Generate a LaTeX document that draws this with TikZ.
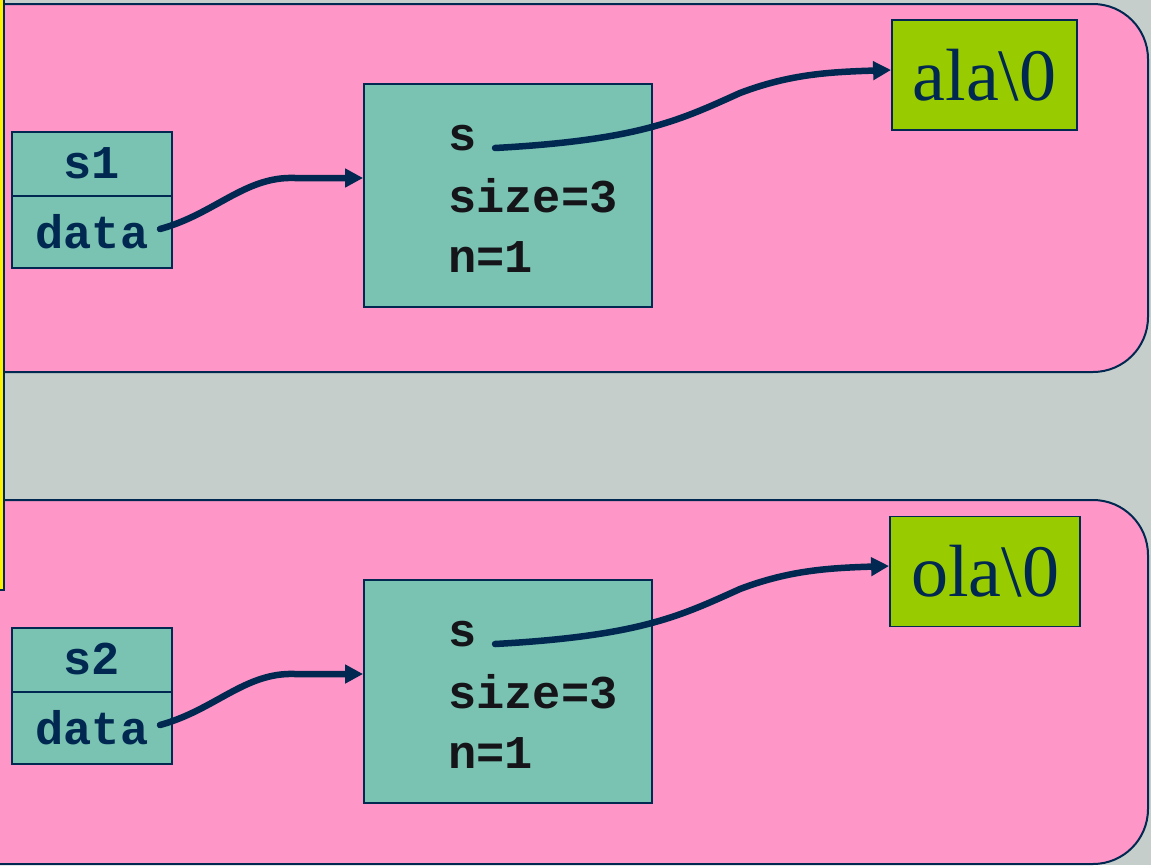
\documentclass[tikz,border=0pt]{standalone}
\usepackage{fontspec}
\setmainfont{Liberation Serif}
\setmonofont{Liberation Mono}
\usetikzlibrary{arrows.meta}

\definecolor{bggray}{RGB}{197,206,203}
\definecolor{panelpink}{RGB}{255,150,200}
\definecolor{cellteal}{RGB}{122,194,178}
\definecolor{strgreen}{RGB}{153,204,0}
\definecolor{navy}{RGB}{0,40,80}
\definecolor{ink}{RGB}{20,20,25}

\tikzset{
  panel/.style={draw=navy, fill=panelpink, line width=2pt, rounded corners=55pt},
  cell/.style={draw=navy, fill=cellteal, line width=1.8pt, minimum width=160pt,
               inner sep=0pt, font=\fontsize{47}{52}\selectfont\ttfamily\bfseries, text=navy},
  objbox/.style={draw=navy, fill=cellteal, line width=1.8pt, minimum width=288pt,
                 minimum height=223pt, inner sep=0pt},
  field/.style={anchor=base west, inner sep=0pt, text=ink,
                font=\fontsize{47}{52}\selectfont\ttfamily\bfseries},
  strbox/.style={draw=navy, fill=strgreen, line width=1.8pt, minimum height=110pt,
                 inner sep=0pt, text=navy, font=\fontsize{74}{84}\selectfont},
  ptr/.style={draw=navy, line width=6.5pt, line cap=round,
              -{Triangle[length=18pt,width=18pt]}}
}

\begin{document}
\begin{tikzpicture}[x=1pt,y=-1pt]
\useasboundingbox (0,0) rectangle (1151,865);
\fill[bggray] (0,0) rectangle (1151,865);

% the two memory panels
\path[panel] (-120,4) rectangle (1148,372);
\path[panel] (-120,500) rectangle (1148,864);

% yellow bar on the left edge
\draw[fill=yellow, draw=navy, line width=1.5pt] (-30,-30) rectangle (4,590);

% ---------- first string ----------
\node[cell, minimum height=64pt, text depth=2pt] (s1) at (92,164) {s1};
\node[cell, minimum height=72pt] (d1) at (92,232) {data};
\node[objbox] (o1) at (508,195.5) {};
\node[field] (o1s) at (448,150) {s};
\node[field] (o1size) at (448,212) {size=3};
\node[field] (o1n) at (448,272) {n=1};
\node[strbox, minimum width=185pt] (t1) at (984.5,75) {ala\textbackslash 0};

\coordinate (d1p) at (160,229);
\coordinate (o1in) at (o1.west |- 0,178);
\coordinate (o1p) at (495,148);
\coordinate (t1in) at (t1.west |- 0,70);

\draw[ptr] (d1p) .. controls (215,214) and (245,176) .. (295,178) -- (o1in);
\draw[ptr] (o1p) .. controls (640,140) and (680,120) .. (740,93)
               .. controls (790,74) and (830,72) .. (t1in);

% ---------- second string ----------
\node[cell, minimum height=64pt, text depth=2pt] (s2) at (92,660) {s2};
\node[cell, minimum height=72pt] (d2) at (92,728) {data};
\node[objbox] (o2) at (508,691.5) {};
\node[field] (o2s) at (448,646) {s};
\node[field] (o2size) at (448,708) {size=3};
\node[field] (o2n) at (448,768) {n=1};
\node[strbox, minimum width=190pt] (t2) at (985,571.5) {ola\textbackslash 0};

\coordinate (d2p) at (160,725);
\coordinate (o2in) at (o2.west |- 0,674);
\coordinate (o2p) at (495,644);
\coordinate (t2in) at (t2.west |- 0,566);

\draw[ptr] (d2p) .. controls (215,710) and (245,672) .. (295,674) -- (o2in);
\draw[ptr] (o2p) .. controls (640,636) and (680,616) .. (740,589)
               .. controls (790,570) and (830,568) .. (t2in);
\end{tikzpicture}
\end{document}
